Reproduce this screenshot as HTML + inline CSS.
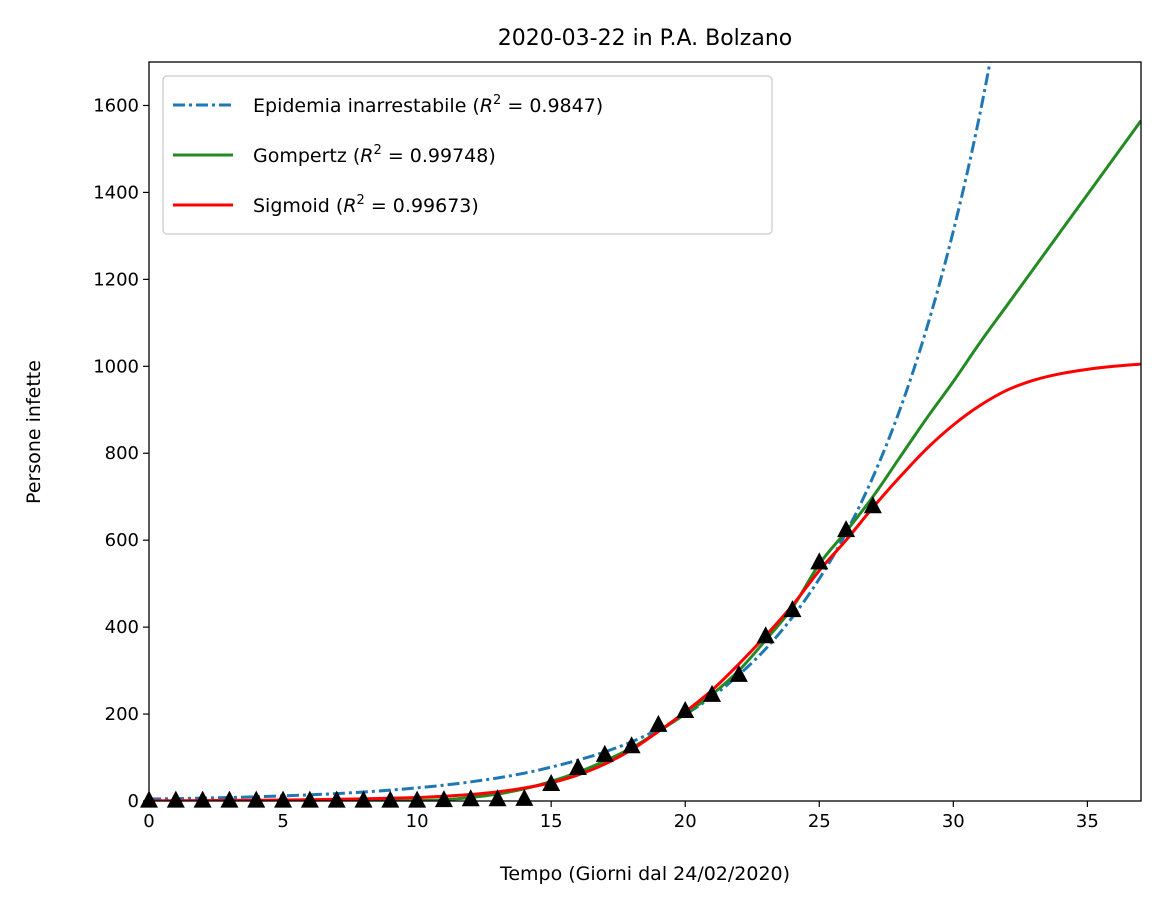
<!DOCTYPE html>
<html><head><meta charset="utf-8"><style>
html,body{margin:0;padding:0;background:#fff;}
svg{display:block;font-family:"DejaVu Sans","Liberation Sans",sans-serif;}
</style></head><body>
<svg id="chart" width="1161" height="908" viewBox="0 0 1161 908" xmlns="http://www.w3.org/2000/svg">
<rect width="1161" height="908" fill="#fff"/>
<text x="645" y="45" font-size="22" text-anchor="middle">2020-03-22 in P.A. Bolzano</text>
<defs><clipPath id="clip"><rect x="149" y="62" width="992" height="739"/></clipPath></defs>
<g id="series" clip-path="url(#clip)"></g>
<g id="markers"></g>
<rect x="149" y="62" width="992" height="739" fill="none" stroke="#000" stroke-width="1.3"/>
<g id="xticks"></g><g id="yticks"></g>
<text x="645" y="880" font-size="19" text-anchor="middle">Tempo (Giorni dal 24/02/2020)</text>
<text transform="translate(40,432) rotate(-90)" font-size="19" text-anchor="middle">Persone infette</text>
<g>
<rect x="163" y="76" width="609" height="158" rx="4" fill="#fff" fill-opacity="0.8" stroke="#ccc" stroke-width="1.3"/>
<line x1="173" y1="105" x2="233" y2="105" stroke="#1f77b4" stroke-width="3" stroke-dasharray="12,4,3,4"/>
<text x="253" y="112" font-size="19">Epidemia inarrestabile (<tspan font-style="italic">R</tspan><tspan font-size="13" dy="-8">2</tspan><tspan dy="8"> = 0.9847)</tspan></text>
<line x1="173" y1="155" x2="233" y2="155" stroke="#228b22" stroke-width="3"/>
<text x="253" y="162" font-size="19">Gompertz (<tspan font-style="italic">R</tspan><tspan font-size="13" dy="-8">2</tspan><tspan dy="8"> = 0.99748)</tspan></text>
<line x1="173" y1="205" x2="233" y2="205" stroke="#ff0000" stroke-width="3"/>
<text x="253" y="212" font-size="19">Sigmoid (<tspan font-style="italic">R</tspan><tspan font-size="13" dy="-8">2</tspan><tspan dy="8"> = 0.99673)</tspan></text>
</g>
</svg>
<script>
const obsDays = [0,1,2,3,4,5,6,7,8,9,10,11,12,13,14,15,16,17,18,19,20,21,22,23,24,25,26,27];
const observed = [1,1,1,1,1,1,1,1,1,1,1,2,4,4,5,39,76,106,126,175,207,244,290,379,439,549,623,678];
const expValues = [4.6,5.5,6.7,8,9.8,11.8,14.2,17.1,20.7,25,30.2,36.4,44,53,64,78,94,113,136,165,199,240,290,350,423,511,617,745,899,1086,1311,1583,1911];
const gompValues = [0,0,0,0,0,0,0,0,0,0,1,3,8,16,28,45,66,92,122,160,200,245,300,370,445,545,620,700,790,880,965,1055,1140,1225,1310,1395,1480,1565];
const sigValues = [0.5,0.7,1,1.3,1.7,2.3,3,4,5,6.5,8,11,15,21,30,42,60,85,118,160,205,255,315,380,450,530,600,675,745,810,865,910,945,968,983,993,1000,1005];
const xTicks = [0,5,10,15,20,25,30,35];
const yTicks = [0,200,400,600,800,1000,1200,1400,1600];
const NS="http://www.w3.org/2000/svg";
const X0=149,X1=1141,Y0=801,Y1=62,XMAX=37,YMAX=1700;
const sx=v=>X0+(X1-X0)*v/XMAX, sy=v=>Y0-(Y0-Y1)*v/YMAX;
function mk(tag,attrs,parent){const e=document.createElementNS(NS,tag);for(const k in attrs)e.setAttribute(k,attrs[k]);parent.appendChild(e);return e;}
const series=document.getElementById('series');
function line(vals,color,dash,name){
  const P=vals.map((v,i)=>[sx(i),sy(v)]);
  let d='M'+P[0][0].toFixed(2)+','+P[0][1].toFixed(2);
  for(let i=0;i<P.length-1;i++){
    const p0=P[Math.max(i-1,0)],p1=P[i],p2=P[i+1],p3=P[Math.min(i+2,P.length-1)];
    const c1=[p1[0]+(p2[0]-p0[0])/6,p1[1]+(p2[1]-p0[1])/6];
    const c2=[p2[0]-(p3[0]-p1[0])/6,p2[1]-(p3[1]-p1[1])/6];
    d+=' C'+c1[0].toFixed(2)+','+c1[1].toFixed(2)+' '+c2[0].toFixed(2)+','+c2[1].toFixed(2)+' '+p2[0].toFixed(2)+','+p2[1].toFixed(2);
  }
  const p=mk('path',{d:d,fill:'none',stroke:color,'stroke-width':3},series);
  if(dash)p.setAttribute('stroke-dasharray',dash);
  
  
}
line(expValues,'#1f77b4','12,4,3,4','exponential-curve');
line(gompValues,'#228b22',null,'gompertz-curve');
line(sigValues,'#ff0000',null,'sigmoid-curve');
const mg=document.getElementById('markers');
obsDays.forEach((d,i)=>{
  const x=sx(d),y=sy(observed[i]);
  const t=mk('polygon',{points:`${x},${y-10} ${x-9},${y+7} ${x+9},${y+7}`,fill:'#000'},mg);
  
  
});
const xg=document.getElementById('xticks');
xTicks.forEach(v=>{
  const x=sx(v);
  mk('line',{x1:x,y1:Y0,x2:x,y2:Y0+6,stroke:'#000','stroke-width':1.2},xg);
  const t=mk('text',{x:x,y:Y0+26,'font-size':18,'text-anchor':'middle'},xg);
  t.textContent=v;
  
  
});
const yg=document.getElementById('yticks');
yTicks.forEach(v=>{
  const y=sy(v);
  mk('line',{x1:X0-6,y1:y,x2:X0,y2:y,stroke:'#000','stroke-width':1.2},yg);
  const t=mk('text',{x:X0-10,y:y+6,'font-size':18,'text-anchor':'end'},yg);
  t.textContent=v;
  
  
});
</script>
</body></html>
